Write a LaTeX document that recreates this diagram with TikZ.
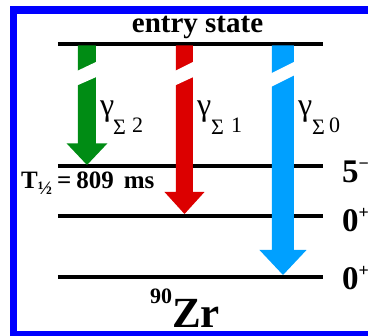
\documentclass[tikz,border=0pt]{standalone}
\usepackage{fontspec}
\setmainfont{Liberation Serif}
\usepackage{tikz}

\definecolor{zrgreen}{RGB}{0,140,20}
\definecolor{zrred}{RGB}{220,0,0}
\definecolor{zrblue}{RGB}{0,160,255}
\definecolor{framebl}{RGB}{0,0,255}

\tikzset{
  level/.style={line width=3.5pt},
  spin/.style={anchor=base west,font=\bfseries\fontsize{33}{33}\selectfont,inner sep=0pt},
  glab/.style={anchor=base west,inner sep=0pt}
}

% #1 x left, #2 x right, #3 head half width, #4 top, #5 head base, #6 tip, #7 colour
\newcommand{\gammaarrow}[7]{%
  \fill[#7] (#1,#4) -- (#2,#4) -- (#2,#5) -- ({(#1+#2)/2+#3},#5)
    -- ({(#1+#2)/2},#6) -- ({(#1+#2)/2-#3},#5) -- (#1,#5) -- cycle;}

\begin{document}
\begin{tikzpicture}[x=1pt,y=-1pt]
    \useasboundingbox (0,0) rectangle (368,336);
    \clip (0,0) rectangle (368,336);

    % levels
    \draw[level] (58,44) -- (323,44);
    \draw[level] (58,166) -- (323,166);
    \draw[level] (58,216) -- (323,216);
    \draw[level] (58,277) -- (323,277);

    \node[anchor=base,inner sep=0pt,font=\bfseries\fontsize{29}{29}\selectfont] (entry) at (197.5,33) {entry state};

    % transitions
    \gammaarrow{78}{96}{20.3}{45.5}{143.5}{165}{zrgreen}
    \gammaarrow{176}{193}{20}{45.5}{192}{214}{zrred}
    \gammaarrow{272}{294}{23.5}{45.5}{250}{275}{zrblue}
    \fill[white] (77,71) -- (97,61.5) -- (97,76.7) -- (77,85.5) -- cycle;
    \fill[white] (175,71) -- (194,61.5) -- (194,76.7) -- (175,85.5) -- cycle;
    \fill[white] (271,73.5) -- (295,61.5) -- (295,75) -- (271,87) -- cycle;

    \node[glab,font=\fontsize{32}{32}\selectfont] (g2) at (100,116) {γ};
    \node[glab,font=\fontsize{22}{22}\selectfont] (s2) at (113,135) {Σ};
    \node[glab,font=\fontsize{22}{22}\selectfont] (n2) at (132,133) {2};
    \node[glab,font=\fontsize{32}{32}\selectfont] (g1) at (197,116) {γ};
    \node[glab,font=\fontsize{22}{22}\selectfont] (s1) at (211,135) {Σ};
    \node[glab,font=\fontsize{22}{22}\selectfont] (n1) at (231,133) {1};
    \node[glab,font=\fontsize{32}{32}\selectfont] (g0) at (298,116) {γ};
    \node[glab,font=\fontsize{22}{22}\selectfont] (s0) at (312,135) {Σ};
    \node[glab,font=\fontsize{22}{22}\selectfont] (n0) at (329,133) {0};

    \node[glab,font=\bfseries\fontsize{25}{25}\selectfont] (thalf) at (21,189)
      {T\raisebox{-6pt}{\fontsize{19}{19}\selectfont ½}\hspace{5pt}=\hspace{5pt}809\hspace{10pt}ms};

    % spins
    \node[spin] (j5) at (342,183) {5\raisebox{13pt}{\fontsize{18}{18}\selectfont −}};
    \node[spin] (j0a) at (342,232) {0\raisebox{13pt}{\fontsize{18}{18}\selectfont +}};
    \node[spin] (j0b) at (342,290) {0\raisebox{13pt}{\fontsize{18}{18}\selectfont +}};

    \node[glab,font=\bfseries\fontsize{43}{43}\selectfont] (zr) at (150,328)
      {\raisebox{24pt}{\fontsize{22}{22}\selectfont 90}Zr};

    \draw[framebl,line width=7.5pt] (13.75,10) rectangle (380,334.75);
\end{tikzpicture}
\end{document}
